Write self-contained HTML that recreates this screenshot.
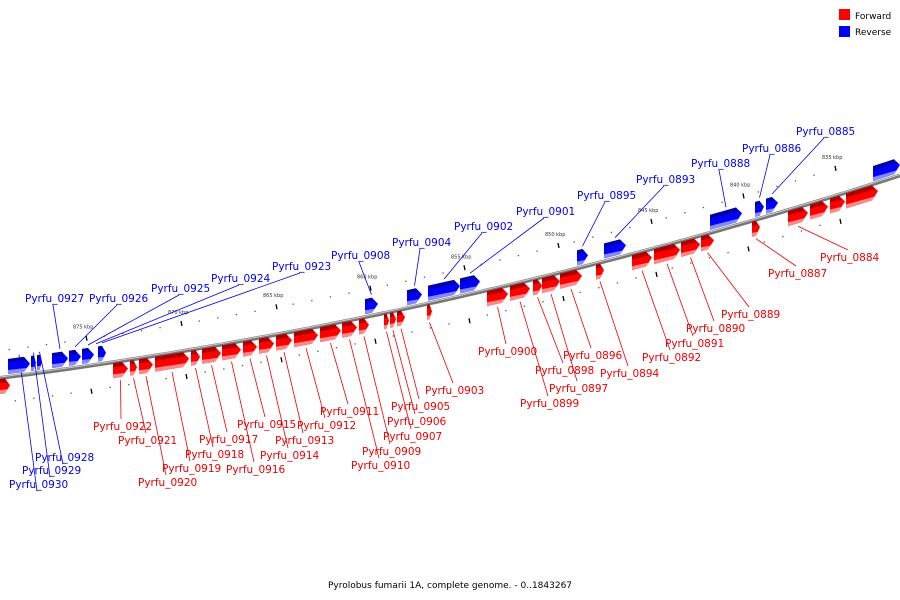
<!DOCTYPE html>
<html><head><meta charset="utf-8"><style>
body{margin:0;background:#fff}
svg{display:block;font-family:"DejaVu Sans","Liberation Sans",sans-serif}
</style></head><body>
<svg id="chart" width="900" height="600" viewBox="0 0 900 600">
<g id="ticks"></g>
<g id="backbone"></g>
<g id="lines"></g>
<g id="genes"></g>
<g id="labels"></g>
<g>
<rect x="839" y="9" width="11" height="11" fill="#f00"/>
<text x="855" y="19" font-size="9">Forward</text>
<rect x="839" y="26" width="11" height="11" fill="#00f"/>
<text x="855" y="35" font-size="9">Reverse</text>
</g>
<text x="450" y="588" font-size="9" text-anchor="middle">Pyrolobus fumarii 1A, complete genome. - 0..1843267</text>
</svg>
<script>
const geneStarts=[8,31,37,52,69,82,98,95,365,407,428,460,577,604,710,755,766,873,0,113,130,139,155,191,202,222,243,259,276,294,320,342,359,384,390,397,427,487,510,533,542,560,596,632,654,681,701,752,788,810,830,846];
const geneEnds=[30,36,42,68,81,94,106,97,378,422,460,480,588,626,742,764,778,900,10,128,137,153,189,200,221,241,257,274,292,318,341,357,369,389,396,405,432,508,530,542,560,582,604,652,680,700,714,760,808,828,845,878];
const geneStrands=["R","R","R","R","R","R","R","R","R","R","R","R","R","R","R","R","R","R","F","F","F","F","F","F","F","F","F","F","F","F","F","F","F","F","F","F","F","F","F","F","F","F","F","F","F","F","F","F","F","F","F","F"];
const geneNames=["Pyrfu_0930","Pyrfu_0929","Pyrfu_0928","Pyrfu_0927","Pyrfu_0926","Pyrfu_0925","Pyrfu_0923","Pyrfu_0924","Pyrfu_0908","Pyrfu_0904","Pyrfu_0902","Pyrfu_0901","Pyrfu_0895","Pyrfu_0893","Pyrfu_0888","Pyrfu_0886","Pyrfu_0885","","","Pyrfu_0922","Pyrfu_0921","Pyrfu_0920","Pyrfu_0919","Pyrfu_0918","Pyrfu_0917","Pyrfu_0916","Pyrfu_0915","Pyrfu_0914","Pyrfu_0913","Pyrfu_0912","Pyrfu_0911","Pyrfu_0910","Pyrfu_0909","Pyrfu_0907","Pyrfu_0906","Pyrfu_0905","Pyrfu_0903","Pyrfu_0900","Pyrfu_0899","Pyrfu_0898","Pyrfu_0897","Pyrfu_0896","Pyrfu_0894","Pyrfu_0892","Pyrfu_0891","Pyrfu_0890","Pyrfu_0889","Pyrfu_0887","Pyrfu_0884","","",""];
const labelX=[9,22,35,25,89,151,272,211,331,392,454,516,577,636,691,742,796,0,0,93,118,138,162,185,199,226,237,260,275,297,320,351,362,383,387,391,425,478,520,535,549,563,600,642,665,686,721,768,820,0,0,0];
const labelY=[488,474,461,302,302,292,270,282,259,246,230,215,199,183,167,152,135,0,0,430,444,486,472,458,443,473,428,459,444,429,415,469,455,440,425,410,394,355,407,374,392,359,377,361,347,332,318,277,261,0,0,0];
const kbpLabels=["835 kbp","840 kbp","845 kbp","850 kbp","855 kbp","860 kbp","865 kbp","870 kbp","875 kbp"];
const kbpX=[832,740,648,555,461,367,273,178,83];

const NS="http://www.w3.org/2000/svg";
function cy(x){return 378-0.127*x-1.09e-4*x*x;}
function mk(tag,attrs,parent){const e=document.createElementNS(NS,tag);for(const k in attrs)e.setAttribute(k,attrs[k]);parent.appendChild(e);return e;}
const gT=document.getElementById('ticks'),gB=document.getElementById('backbone'),gL=document.getElementById('lines'),gG=document.getElementById('genes'),gLab=document.getElementById('labels');

let d="";for(let x=0;x<=900;x+=10)d+=(x?"L":"M")+x+","+cy(x).toFixed(1);
let p=mk('path',{d:d,stroke:'#777','stroke-width':4,fill:'none'},gB);


p=mk('path',{d:d,stroke:'#ccc','stroke-width':1,fill:'none',transform:'translate(0,-1)'},gB);



kbpX.forEach((x,i)=>{
  const t=mk('text',{x:x-10,y:cy(x)-38,'font-size':5,fill:'#333'},gT);t.textContent=kbpLabels[i];
  
  
  const l=mk('line',{x1:x+3,y1:cy(x)-31,x2:x+4,y2:cy(x)-26,stroke:'#000','stroke-width':1.3},gT);
  
  
  const l2=mk('line',{x1:x+8,y1:cy(x)+22,x2:x+9,y2:cy(x)+27,stroke:'#000','stroke-width':1.3},gT);
  
  
  for(let j=1;j<5;j++){const xx=x-j*18.6;
    const c=mk('rect',{x:xx,y:cy(xx)-28,width:1.3,height:1.3,fill:'#555'},gT);
    
    
    const c2=mk('rect',{x:xx+6,y:cy(xx+6)+24,width:1.3,height:1.3,fill:'#555'},gT);
    
    }
});

geneStarts.forEach((s,i)=>{
  const e=geneEnds[i],f=geneStrands[i]==="F";
  const o1=f?1:-18,o2=f?16:-3;
  const ah=Math.min(6,(e-s)/2);
  const m=e-ah;
  const yt=x=>cy(x)+o1,yb=x=>cy(x)+o2,ym=x=>cy(x)+(o1+o2)/2;
  const g=mk('g',{},gG);
  
  
  if(e-s>3){
    const pts=[[s,yt(s)],[m,yt(m)],[e,ym(e)],[m,yb(m)],[s,yb(s)]];
    mk('polygon',{points:pts.map(q=>q[0]+","+q[1].toFixed(1)).join(" "),fill:f?'#f00':'#00f'},g);
    const top=[[s,yt(s)],[m,yt(m)],[m+ah*0.4,yt(m)+4],[s,yt(s)+4]];
    mk('polygon',{points:top.map(q=>q[0]+","+q[1].toFixed(1)).join(" "),fill:f?'#a00':'#00a'},g);
    const bot=[[s,yb(s)-4],[m+ah*0.5,yb(m)-4],[m,yb(m)],[s,yb(s)]];
    mk('polygon',{points:bot.map(q=>q[0]+","+q[1].toFixed(1)).join(" "),fill:f?'#f88':'#88f'},g);
  }
  if(geneNames[i]){
    const col=f?'#e00':'#00e';
    const cx=(s+e)/2;
    const lx=labelX[i]+28, ly=f?labelY[i]-11:labelY[i]+3;
    const gy=f?cy(cx)+o2+3:cy(cx)+o1-3;
    const l=mk('line',{x1:cx,y1:gy,x2:lx,y2:ly,stroke:col,'stroke-width':0.8},gL);
    
    
    const t=mk('text',{x:labelX[i],y:labelY[i],'font-size':10.5,fill:col},gLab);
    t.textContent=geneNames[i];
    
    
  }
});
</script>
</body></html>
